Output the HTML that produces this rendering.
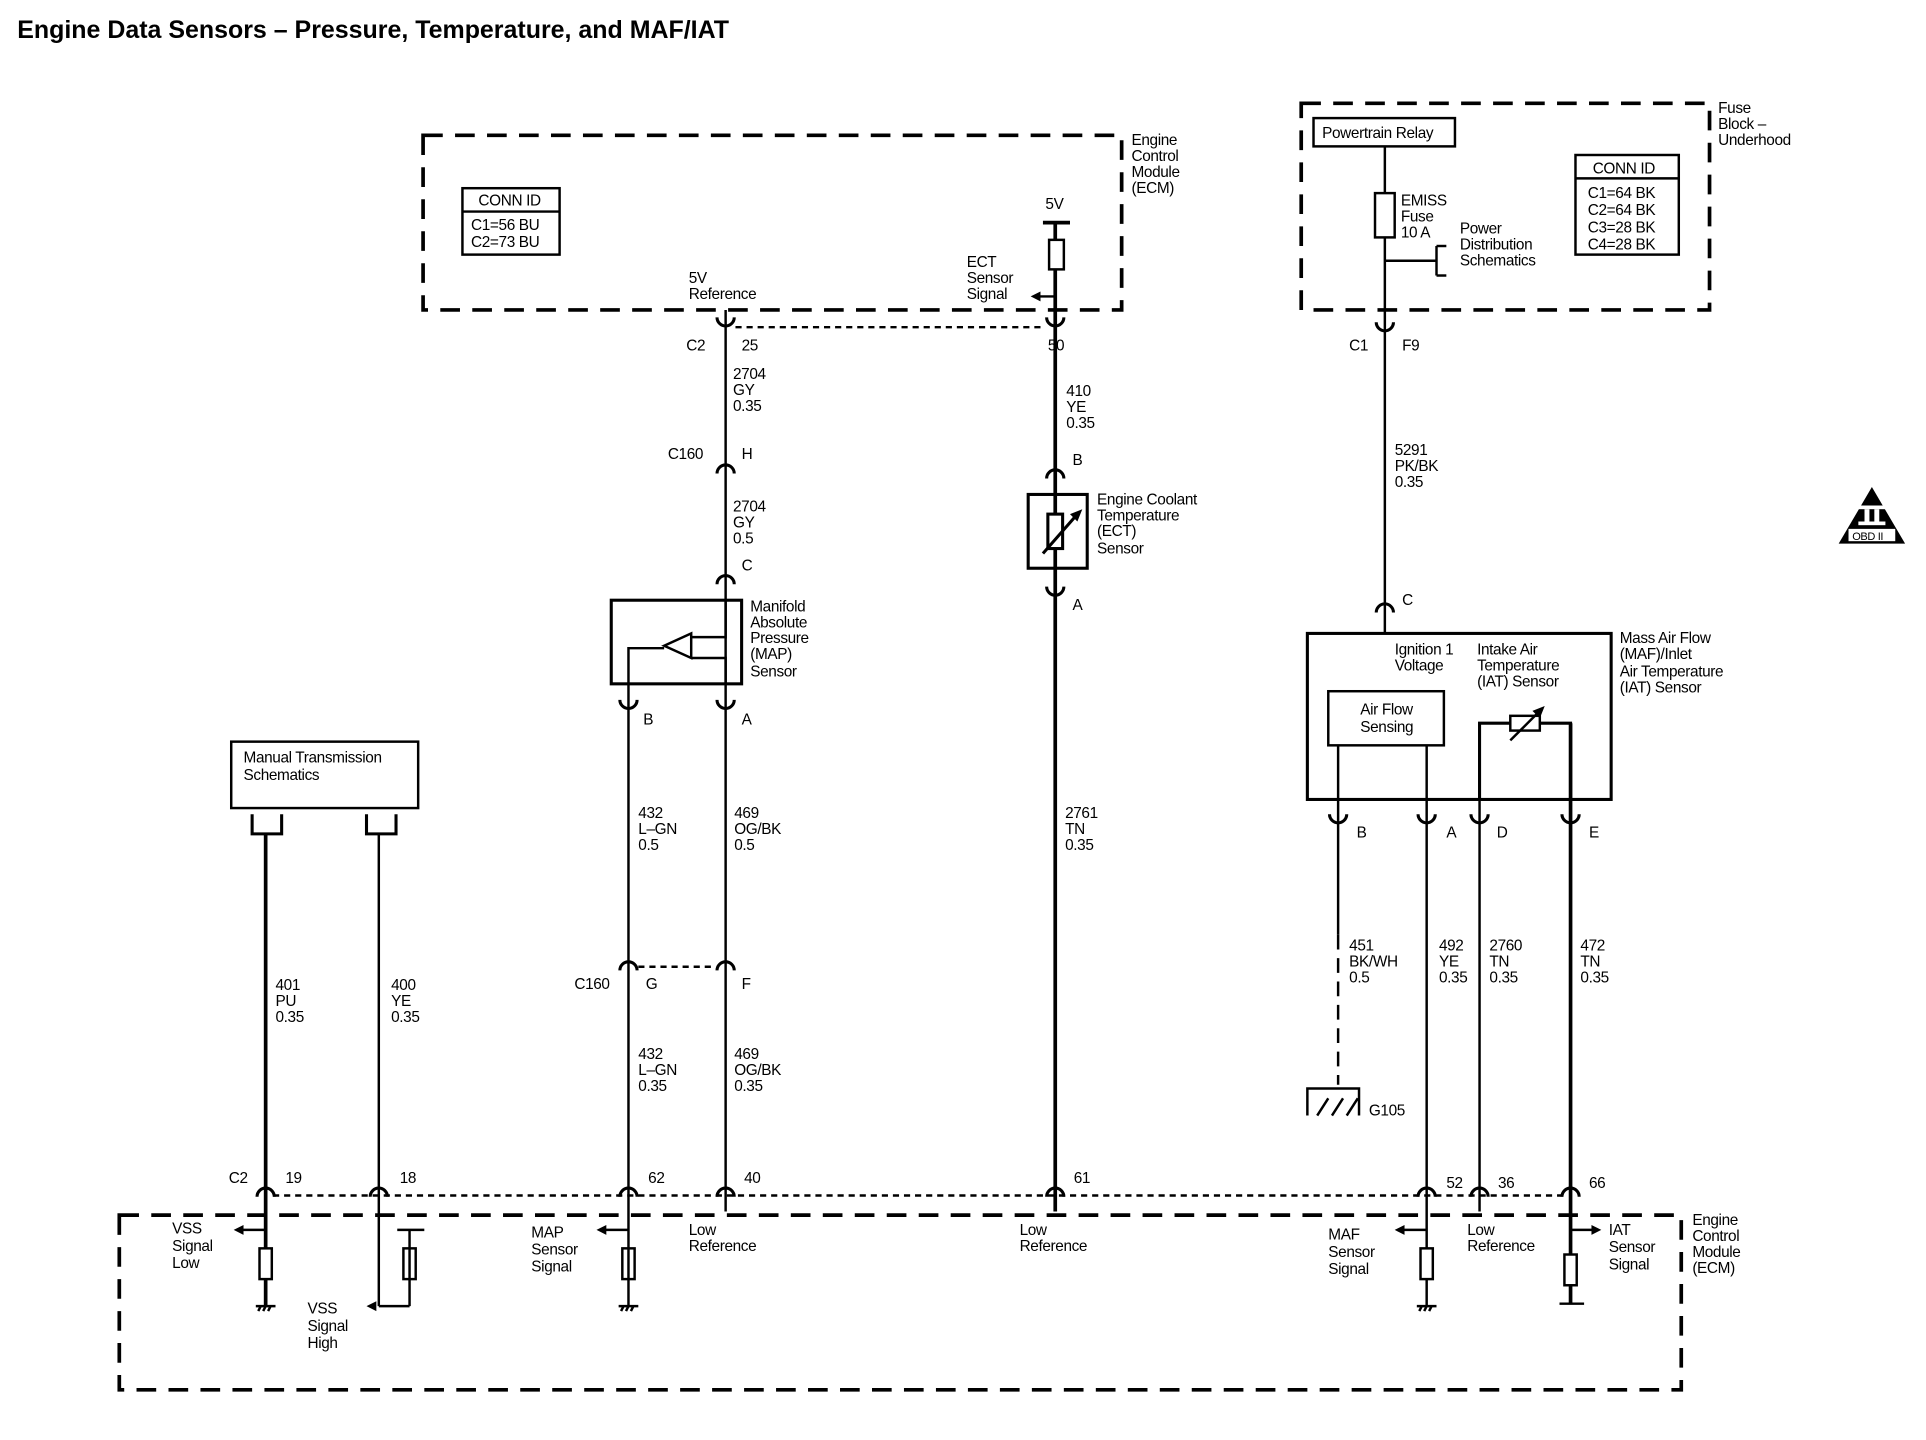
<!DOCTYPE html>
<html><head><meta charset="utf-8"><style>
html,body{margin:0;padding:0;background:#fff}
svg{display:block}
text{font-family:"Liberation Sans",sans-serif;font-size:12.5px;fill:#000;letter-spacing:-0.3px}
.b{font-weight:bold}
</style></head><body>
<svg width="1926" height="1440" viewBox="0 0 1566 1170.8" xmlns="http://www.w3.org/2000/svg">
<g fill="none" stroke="#000">
<rect x="344" y="110" width="568" height="142" stroke-width="3" stroke-dasharray="16,10"/>
<rect x="1058" y="84" width="332" height="168" stroke-width="3" stroke-dasharray="16,10"/>
<rect x="97" y="988" width="1270" height="142" stroke-width="3" stroke-dasharray="16,10"/>
<line x1="598" y1="266" x2="850" y2="266" stroke-width="2" stroke-dasharray="5,4"/>
<line x1="519" y1="786" x2="582" y2="786" stroke-width="2" stroke-dasharray="5,4"/>
<line x1="222" y1="972" x2="1271" y2="972" stroke-width="2" stroke-dasharray="5,4"/>
<rect x="376" y="153" width="79" height="54" stroke-width="2"/>
<line x1="376" y1="172" x2="455" y2="172" stroke-width="2"/>
<rect x="1281" y="126" width="84" height="81" stroke-width="2"/>
<line x1="1281" y1="145" x2="1365" y2="145" stroke-width="2"/>
<g stroke-width="2">
<line x1="590" y1="252" x2="590" y2="985"/>
<line x1="511" y1="556" x2="511" y2="985"/>
<line x1="308" y1="678" x2="308" y2="1062"/>
<line x1="1203" y1="588" x2="1203" y2="985"/>
<line x1="1160" y1="606" x2="1160" y2="1062"/>
<line x1="1126" y1="119" x2="1126" y2="515"/>
<line x1="1088" y1="606" x2="1088" y2="760"/>
<line x1="1088" y1="760" x2="1088" y2="882" stroke-dasharray="12,7"/>
<line x1="1126" y1="212" x2="1168" y2="212"/>
<line x1="1168" y1="200" x2="1168" y2="224"/>
<line x1="1168" y1="200" x2="1176" y2="200"/>
<line x1="1168" y1="224" x2="1176" y2="224"/>
</g>
<g stroke-width="3">
<line x1="858" y1="180" x2="858" y2="985"/>
<line x1="216" y1="678" x2="216" y2="1062"/>
<line x1="1277" y1="588" x2="1277" y2="1060"/>
<line x1="848" y1="181" x2="870" y2="181"/>
</g>
<g stroke-width="2.5">
<path d="M583 258 A7 7 0 0 0 597 258"/><path d="M851 258 A7 7 0 0 0 865 258"/>
<path d="M1119 262 A7 7 0 0 0 1133 262"/>
<path d="M504 569 A7 7 0 0 0 518 569"/><path d="M583 569 A7 7 0 0 0 597 569"/>
<path d="M851 477 A7 7 0 0 0 865 477"/>
<path d="M1081 662 A7 7 0 0 0 1095 662"/><path d="M1153 662 A7 7 0 0 0 1167 662"/>
<path d="M1196 662 A7 7 0 0 0 1210 662"/><path d="M1270 662 A7 7 0 0 0 1284 662"/>
<path d="M583 385 A7 7 0 0 1 597 385"/><path d="M583 475 A7 7 0 0 1 597 475"/>
<path d="M851 389 A7 7 0 0 1 865 389"/>
<path d="M1119 498 A7 7 0 0 1 1133 498"/>
<path d="M504 789 A7 7 0 0 1 518 789"/><path d="M583 789 A7 7 0 0 1 597 789"/>
<path d="M209 973 A7 7 0 0 1 223 973"/><path d="M301 973 A7 7 0 0 1 315 973"/>
<path d="M504 973 A7 7 0 0 1 518 973"/><path d="M583 973 A7 7 0 0 1 597 973"/>
<path d="M851 973 A7 7 0 0 1 865 973"/><path d="M1153 973 A7 7 0 0 1 1167 973"/>
<path d="M1196 973 A7 7 0 0 1 1210 973"/><path d="M1270 973 A7 7 0 0 1 1284 973"/>
</g>
<rect x="188" y="603" width="152" height="54" stroke-width="2"/>
<path d="M205 662 V678 H229 V662 M298 662 V678 H322 V662" stroke-width="2.5"/>
<rect x="497" y="488" width="106" height="68" stroke-width="2.5"/>
<path d="M511 556 V527 H540 M562 515 V535 L540 525 Z M562 518 H590 V488 M590 556 V535 H562" stroke-width="2"/>
<rect x="836" y="402" width="48" height="60" stroke-width="2.5"/>
<rect x="852" y="418" width="12" height="28" stroke-width="2.5" fill="#fff"/>
<line x1="848" y1="450" x2="876" y2="418" stroke-width="2.5"/>
<rect x="853" y="195" width="12" height="24" stroke-width="2" fill="#fff"/>
<rect x="1068" y="96" width="115" height="23" stroke-width="2"/>
<rect x="1118" y="157" width="16" height="36" stroke-width="2" fill="#fff"/>
<rect x="1063" y="515" width="247" height="135" stroke-width="2.5"/>
<rect x="1080" y="562" width="94" height="44" stroke-width="2" fill="#fff"/>
<path d="M1203 650 V588 H1277 V650" stroke-width="2.5"/>
<rect x="1228" y="582" width="24" height="12" stroke-width="2" fill="#fff"/>
<line x1="1228" y1="602" x2="1252" y2="578" stroke-width="2"/>
<path d="M1063 907 V885 H1105 V907 M1071 907 L1080 893 M1083 907 L1092 893 M1095 907 L1104 893" stroke-width="2"/>
<g stroke-width="2">
<rect x="211" y="1015" width="10" height="25" fill="#fff"/>
<rect x="328" y="1015" width="10" height="25" fill="#fff"/>
<rect x="506" y="1015" width="10" height="25" fill="#fff"/>
<rect x="1155" y="1015" width="10" height="25" fill="#fff"/>
<rect x="1272" y="1020" width="10" height="25" fill="#fff"/>
<line x1="511" y1="985" x2="511" y2="1062"/>
<line x1="333" y1="1000" x2="333" y2="1062"/>
<line x1="323" y1="1000" x2="345" y2="1000"/>
<line x1="308" y1="1062" x2="333" y2="1062"/>
<line x1="1268" y1="1060" x2="1288" y2="1060"/>
<line x1="196" y1="1000" x2="216" y2="1000"/><line x1="491" y1="1000" x2="511" y2="1000"/>
<line x1="1140" y1="1000" x2="1160" y2="1000"/><line x1="1277" y1="1000" x2="1296" y2="1000"/>
<line x1="845" y1="241" x2="858" y2="241"/>
<path d="M208 1062 H224 M210 1066 L212 1062 M214 1066 L216 1062 M218 1066 L220 1062"/>
<path d="M503 1062 H519 M505 1066 L507 1062 M509 1066 L511 1062 M513 1066 L515 1062"/>
<path d="M1152 1062 H1168 M1154 1066 L1156 1062 M1158 1066 L1160 1062 M1162 1066 L1164 1062"/>
</g>
</g>
<g fill="#000">
<path d="M190 1000 L198 996 L198 1004Z M485 1000 L493 996 L493 1004Z M1134 1000 L1142 996 L1142 1004Z M1302 1000 L1294 996 L1294 1004Z M838 241 L846 237 L846 245Z M298 1062 L306 1058 L306 1066Z M880 414 L870 418 L876 424Z M1256 574 L1246 578 L1252 584Z"/>
<path d="M1522 396 L1549 442 L1495 442Z"/>
</g>
<g fill="#fff">
<rect x="1511" y="411" width="22" height="3"/><rect x="1511" y="424" width="22" height="3"/>
<rect x="1516" y="414" width="4" height="10"/><rect x="1524" y="414" width="4" height="10"/>
<rect x="1503" y="430" width="38" height="10"/>
</g>
<text x="1506" y="439" style="font-size:9px">OBD II</text>
<text x="14" y="31" class="b" style="font-size:20.3px;letter-spacing:0">Engine Data Sensors – Pressure, Temperature, and MAF/IAT</text>
<g>
<text x="920" y="118">Engine</text><text x="920" y="131">Control</text><text x="920" y="144">Module</text><text x="920" y="157">(ECM)</text>
<text x="389" y="167">CONN ID</text><text x="383" y="187">C1=56 BU</text><text x="383" y="201">C2=73 BU</text>
<text x="560" y="230">5V</text><text x="560" y="243">Reference</text>
<text x="850" y="170">5V</text>
<text x="786" y="217">ECT</text><text x="786" y="230">Sensor</text><text x="786" y="243">Signal</text>
<text x="558" y="285">C2</text><text x="603" y="285">25</text><text x="852" y="285">50</text>
<text x="596" y="308">2704</text><text x="596" y="321">GY</text><text x="596" y="334">0.35</text>
<text x="543" y="373">C160</text><text x="603" y="373">H</text>
<text x="596" y="416">2704</text><text x="596" y="429">GY</text><text x="596" y="442">0.5</text>
<text x="603" y="464">C</text>
<text x="610" y="497">Manifold</text><text x="610" y="510">Absolute</text><text x="610" y="523">Pressure</text><text x="610" y="536">(MAP)</text><text x="610" y="550">Sensor</text>
<text x="523" y="589">B</text><text x="603" y="589">A</text>
<text x="519" y="665">432</text><text x="519" y="678">L–GN</text><text x="519" y="691">0.5</text>
<text x="597" y="665">469</text><text x="597" y="678">OG/BK</text><text x="597" y="691">0.5</text>
<text x="467" y="804">C160</text><text x="525" y="804">G</text><text x="603" y="804">F</text>
<text x="519" y="861">432</text><text x="519" y="874">L–GN</text><text x="519" y="887">0.35</text>
<text x="597" y="861">469</text><text x="597" y="874">OG/BK</text><text x="597" y="887">0.35</text>
<text x="867" y="322">410</text><text x="867" y="335">YE</text><text x="867" y="348">0.35</text>
<text x="872" y="378">B</text>
<text x="892" y="410">Engine Coolant</text><text x="892" y="423">Temperature</text><text x="892" y="436">(ECT)</text><text x="892" y="450">Sensor</text>
<text x="872" y="496">A</text>
<text x="866" y="665">2761</text><text x="866" y="678">TN</text><text x="866" y="691">0.35</text>
<text x="198" y="620">Manual Transmission</text><text x="198" y="634">Schematics</text>
<text x="224" y="805">401</text><text x="224" y="818">PU</text><text x="224" y="831">0.35</text>
<text x="318" y="805">400</text><text x="318" y="818">YE</text><text x="318" y="831">0.35</text>
<text x="186" y="962">C2</text><text x="232" y="962">19</text><text x="325" y="962">18</text><text x="527" y="962">62</text><text x="605" y="962">40</text><text x="873" y="962">61</text>
<text x="1176" y="966">52</text><text x="1218" y="966">36</text><text x="1292" y="966">66</text>
<text x="1376" y="996">Engine</text><text x="1376" y="1009">Control</text><text x="1376" y="1022">Module</text><text x="1376" y="1035">(ECM)</text>
<text x="140" y="1003">VSS</text><text x="140" y="1017">Signal</text><text x="140" y="1031">Low</text>
<text x="250" y="1068">VSS</text><text x="250" y="1082">Signal</text><text x="250" y="1096">High</text>
<text x="432" y="1006">MAP</text><text x="432" y="1020">Sensor</text><text x="432" y="1034">Signal</text>
<text x="560" y="1004">Low</text><text x="560" y="1017">Reference</text>
<text x="829" y="1004">Low</text><text x="829" y="1017">Reference</text>
<text x="1080" y="1008">MAF</text><text x="1080" y="1022">Sensor</text><text x="1080" y="1036">Signal</text>
<text x="1193" y="1004">Low</text><text x="1193" y="1017">Reference</text>
<text x="1308" y="1004">IAT</text><text x="1308" y="1018">Sensor</text><text x="1308" y="1032">Signal</text>
<text x="1397" y="92">Fuse</text><text x="1397" y="105">Block –</text><text x="1397" y="118">Underhood</text>
<text x="1075" y="112">Powertrain Relay</text>
<text x="1295" y="141">CONN ID</text><text x="1291" y="161">C1=64 BK</text><text x="1291" y="175">C2=64 BK</text><text x="1291" y="189">C3=28 BK</text><text x="1291" y="203">C4=28 BK</text>
<text x="1139" y="167">EMISS</text><text x="1139" y="180">Fuse</text><text x="1139" y="193">10 A</text>
<text x="1187" y="190">Power</text><text x="1187" y="203">Distribution</text><text x="1187" y="216">Schematics</text>
<text x="1097" y="285">C1</text><text x="1140" y="285">F9</text>
<text x="1134" y="370">5291</text><text x="1134" y="383">PK/BK</text><text x="1134" y="396">0.35</text>
<text x="1140" y="492">C</text>
<text x="1134" y="532">Ignition 1</text><text x="1134" y="545">Voltage</text>
<text x="1201" y="532">Intake Air</text><text x="1201" y="545">Temperature</text><text x="1201" y="558">(IAT) Sensor</text>
<text x="1317" y="523">Mass Air Flow</text><text x="1317" y="536">(MAF)/Inlet</text><text x="1317" y="550">Air Temperature</text><text x="1317" y="563">(IAT) Sensor</text>
<text x="1106" y="581">Air Flow</text><text x="1106" y="595">Sensing</text>
<text x="1103" y="681">B</text><text x="1176" y="681">A</text><text x="1217" y="681">D</text><text x="1292" y="681">E</text>
<text x="1097" y="773">451</text><text x="1097" y="786">BK/WH</text><text x="1097" y="799">0.5</text>
<text x="1170" y="773">492</text><text x="1170" y="786">YE</text><text x="1170" y="799">0.35</text>
<text x="1211" y="773">2760</text><text x="1211" y="786">TN</text><text x="1211" y="799">0.35</text>
<text x="1285" y="773">472</text><text x="1285" y="786">TN</text><text x="1285" y="799">0.35</text>
<text x="1113" y="907">G105</text>
</g>
</svg>
</body></html>
